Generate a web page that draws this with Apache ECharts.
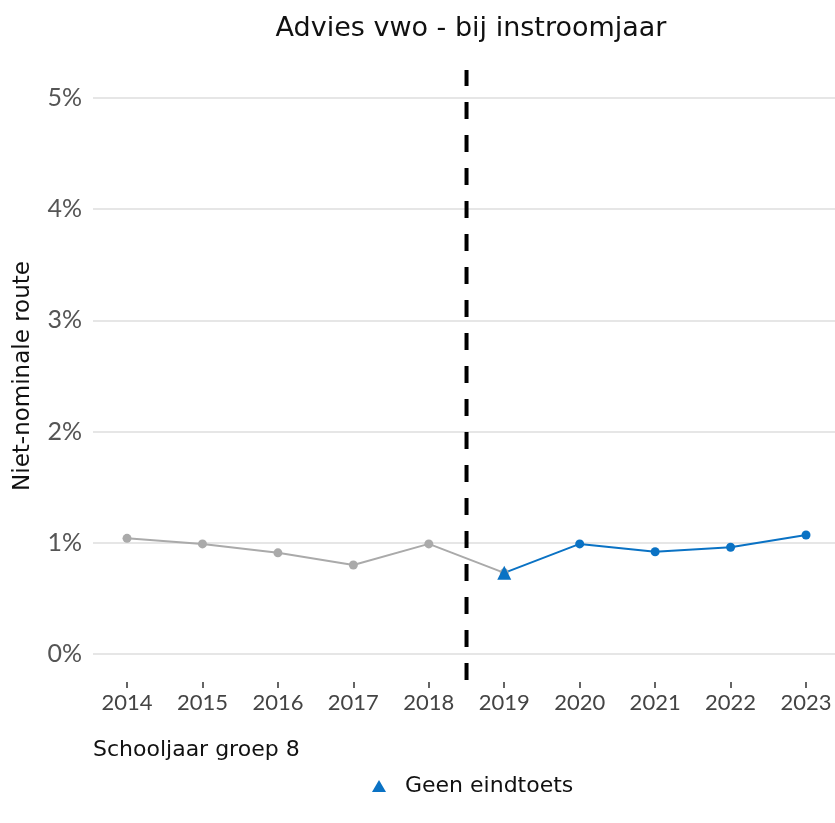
<!DOCTYPE html>
<html><head><meta charset="utf-8">
<script src="https://cdn.jsdelivr.net/npm/echarts@6/dist/echarts.min.js"></script>
<style>html,body{margin:0;padding:0;background:#fff}#c{width:835px;height:823px}</style>
</head><body><div id="c"></div>
<script>
const years = [2014, 2015, 2016, 2017, 2018, 2019, 2020, 2021, 2022, 2023];
const grayYears = [2014, 2015, 2016, 2017, 2018, 2019];
const grayValues = [1.04, 0.99, 0.91, 0.80, 0.99, 0.73];
const blueYears = [2019, 2020, 2021, 2022, 2023];
const blueValues = [0.73, 0.99, 0.92, 0.96, 1.07];
const noTestYears = [2019];
const noTestValues = [0.73];
const yTicks = [0, 1, 2, 3, 4, 5];
const breakYear = 2018.5;

const FONT = 'DejaVu Sans';
const NUMFONT = 'Lato';
const chart = echarts.init(document.getElementById('c'), null, {renderer: 'canvas'});
const xMin = 2013.549, xMax = 2023.384;
const option = {
  animation: false,
  textStyle: {fontFamily: FONT},
  title: [
    {text: 'Advies vwo - bij instroomjaar', left: 466, textAlign: 'center', top: 10,
     textStyle: {fontFamily: FONT, fontSize: 27, fontWeight: 'normal', color: '#111'}},
    {text: 'Schooljaar groep 8', left: 88, top: 734,
     textStyle: {fontFamily: FONT, fontSize: 22, fontWeight: 'normal', color: '#111'}}
  ],
  legend: {
    top: 770, left: 367,
    data: [{name: 'Geen eindtoets', icon: 'triangle'}],
    itemWidth: 14, itemHeight: 12, itemGap: 10,
    textStyle: {fontFamily: FONT, fontSize: 22, color: '#111', padding: [0, 0, 0, 14]}
  },
  grid: [
    {left: 93, right: 0, top: 98, bottom: 169, outerBoundsMode: 'none', containLabel: false},
    {left: 93, right: 0, top: 70, bottom: 143, outerBoundsMode: 'none', containLabel: false},
    {left: 93, right: 0, top: 600, bottom: 141, outerBoundsMode: 'none', containLabel: false}
  ],
  xAxis: [
    {type: 'value', gridIndex: 0, min: xMin, max: xMax, show: false},
    {type: 'value', gridIndex: 1, min: xMin, max: xMax, show: false},
    {type: 'value', gridIndex: 2, min: xMin, max: xMax,
     axisLine: {show: false},
     axisTick: {show: true, length: 6, lineStyle: {color: '#333', width: 1.5}, customValues: years},
     axisLabel: {customValues: years, fontFamily: NUMFONT, fontSize: 22, color: '#444', margin: 10,
                 formatter: v => String(v)},
     splitLine: {show: false}}
  ],
  yAxis: [
    {type: 'value', gridIndex: 0, min: 0, max: 5, interval: 1,
     name: 'Niet-nominale route', nameLocation: 'middle', nameGap: 58, nameRotate: 90,
     nameTextStyle: {fontFamily: FONT, fontSize: 23, color: '#111'},
     axisLine: {show: false}, axisTick: {show: false},
     axisLabel: {fontFamily: NUMFONT, fontSize: 25, color: '#555', margin: 11,
                 formatter: v => yTicks.includes(v) ? v + '%' : ''},
     splitLine: {show: true, lineStyle: {color: '#e6e6e6', width: 2}}},
    {type: 'value', gridIndex: 1, min: 0, max: 1, show: false},
    {type: 'value', gridIndex: 2, min: 0, max: 1, show: false}
  ],
  series: [
    {type: 'line', name: 'gray', xAxisIndex: 0, yAxisIndex: 0,
     data: grayYears.map((y, i) => [y, grayValues[i]]),
     symbol: 'circle', symbolSize: 9,
     itemStyle: {color: '#aaaaaa'}, lineStyle: {color: '#aaaaaa', width: 2}},
    {type: 'line', name: 'blue', xAxisIndex: 0, yAxisIndex: 0,
     data: blueYears.map((y, i) => ({value: [y, blueValues[i]], symbol: i === 0 ? 'none' : 'circle'})),
     symbol: 'circle', symbolSize: 9,
     itemStyle: {color: '#0a72c4'}, lineStyle: {color: '#0a72c4', width: 2}},
    {type: 'line', name: 'Geen eindtoets', xAxisIndex: 0, yAxisIndex: 0,
     data: noTestYears.map((y, i) => [y, noTestValues[i]]),
     symbol: 'triangle', symbolSize: 14,
     itemStyle: {color: '#0a72c4'}, lineStyle: {width: 0}},
    {type: 'line', name: 'break', xAxisIndex: 1, yAxisIndex: 1,
     data: [[breakYear, 0], [breakYear, 1]], symbol: 'none',
     lineStyle: {color: '#000', width: 4, type: [17, 16]}}
  ]
};
chart.setOption(option);
</script>
</body></html>
